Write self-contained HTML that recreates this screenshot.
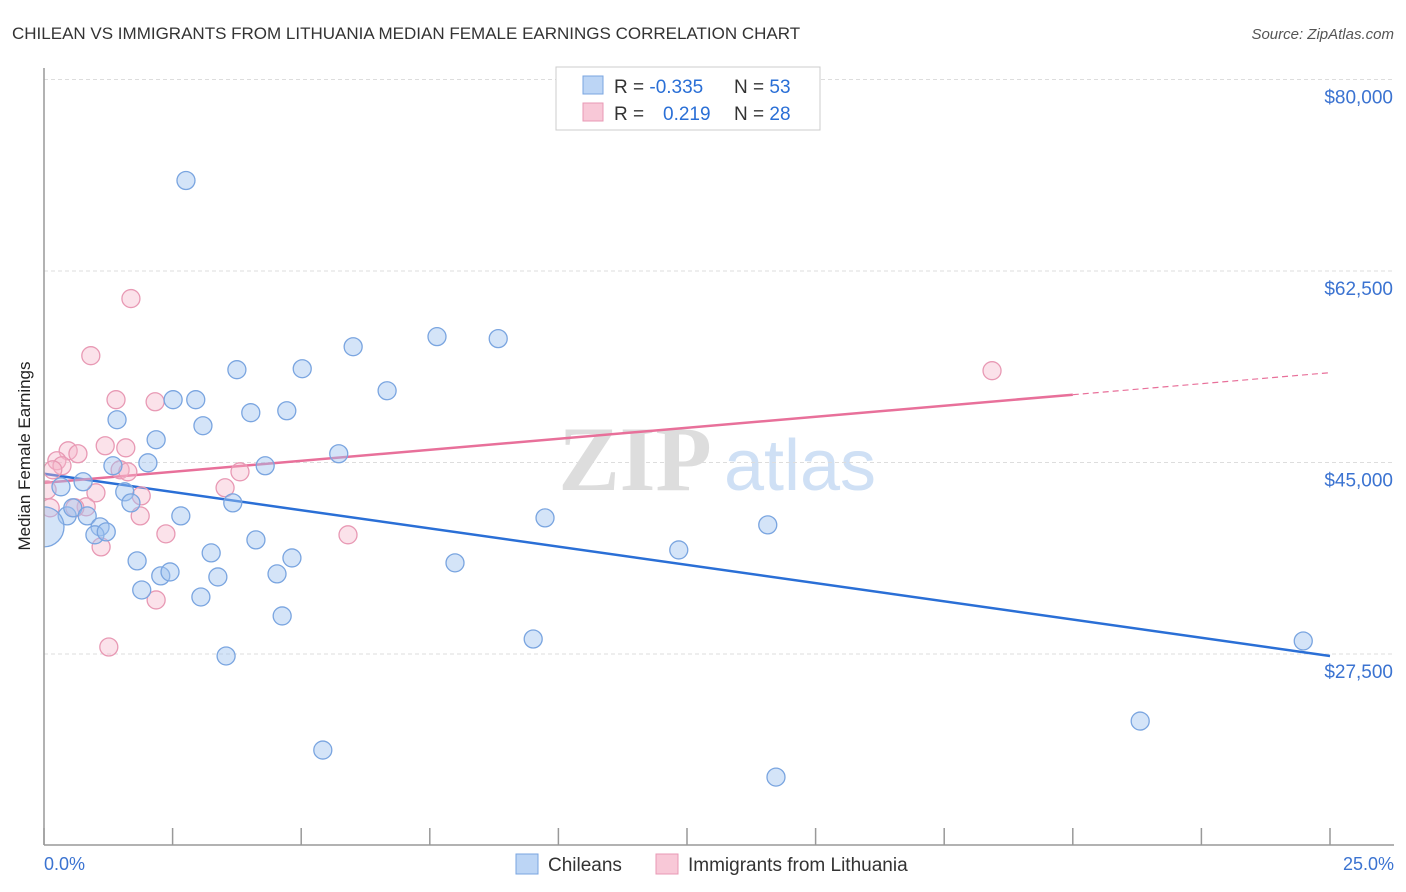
<!DOCTYPE html>
<html><head><meta charset="utf-8"><style>
body{margin:0;background:#fff;font-family:"Liberation Sans",sans-serif}
svg{display:block}
</style></head><body>
<svg id="chart" width="1406" height="892">
<defs><clipPath id="plotclip"><rect x="44" y="60" width="1362" height="785"/></clipPath></defs>
<text x="12" y="39" font-size="17" fill="#333">CHILEAN VS IMMIGRANTS FROM LITHUANIA MEDIAN FEMALE EARNINGS CORRELATION CHART</text>
<text x="1394" y="39" font-size="15" fill="#555" font-style="italic" text-anchor="end">Source: ZipAtlas.com</text>
<g><text x="635" y="490" font-size="92" font-family="Liberation Serif,serif" fill="#ddd" text-anchor="middle" font-weight="bold">ZIP</text><text x="800" y="490" font-size="72" fill="#cfe0f5" text-anchor="middle">atlas</text></g>
<g id="grid"></g>
<g id="xticks"></g>
<text x="30" y="456" font-size="17" fill="#222" text-anchor="middle" transform="rotate(-90 30 456)">Median Female Earnings</text>
<text x="44" y="870" font-size="18" fill="#3b73d1">0.0%</text>
<text x="1394" y="870" font-size="18" fill="#3b73d1" text-anchor="end">25.0%</text>
<g id="lines"></g>
<g id="points" clip-path="url(#plotclip)"></g>
<line x1="44" y1="68" x2="44" y2="845" stroke="#999" stroke-width="1.5"/>
<line x1="44" y1="845" x2="1394" y2="845" stroke="#999" stroke-width="1.5"/>
<g>
<rect x="556" y="67" width="264" height="63" fill="#fff" stroke="#ccc"/>
<rect x="583" y="76" width="20" height="18" fill="#bcd5f5" stroke="#7aa5e0"/>
<rect x="583" y="103" width="20" height="18" fill="#f8c8d7" stroke="#e899b4"/>
<text x="614" y="93" font-size="19" fill="#333">R = <tspan fill="#2a6fd6">-0.335</tspan><tspan x="734">N = </tspan><tspan fill="#2a6fd6">53</tspan></text>
<text x="614" y="120" font-size="19" fill="#333">R = <tspan x="663" fill="#2a6fd6">0.219</tspan><tspan x="734">N = </tspan><tspan fill="#2a6fd6">28</tspan></text>
</g>
<g>
<rect x="516" y="854" width="22" height="20" fill="#bcd5f5" stroke="#7aa5e0"/>
<text x="548" y="871" font-size="19" fill="#333">Chileans</text>
<rect x="656" y="854" width="22" height="20" fill="#f8c8d7" stroke="#e899b4"/>
<text x="688" y="871" font-size="19" fill="#333">Immigrants from Lithuania</text>
</g>
</svg>
<script>
const yTicks=[80000,62500,45000,27500];
const yTickLabels=["$80,000","$62,500","$45,000","$27,500"];
const xTickVals=[0,2.5,5,7.5,10,12.5,15,17.5,20,22.5,25];
const chileX=[2.76,0.33,0.45,0.76,0.56,0.84,1.09,0.99,1.21,1.34,1.42,1.57,1.69,1.81,1.90,2.02,2.18,2.27,2.45,2.51,2.95,3.09,2.66,3.05,3.25,3.38,3.54,3.67,3.75,4.02,4.12,4.30,4.53,4.63,4.72,4.82,5.02,5.42,5.73,6.01,6.67,7.64,7.99,8.83,9.51,9.74,12.34,14.07,14.23,21.31,24.48,0.0];
const chileY=[70770,42780,40120,43240,40860,40120,39120,38390,38660,44700,48910,42320,41310,36010,33350,44970,47080,34640,35000,50740,50740,48360,40120,32710,36740,34540,27320,41310,53480,49550,37930,44700,34820,30980,49730,36280,53570,18720,45800,55580,51560,56500,35830,56320,28870,39940,37010,39300,16250,21370,28690,39120];
const chileR=[9,9,9,9,9,9,9,9,9,9,9,9,9,9,9,9,9,9,9,9,9,9,9,9,9,9,9,9,9,9,9,9,9,9,9,9,9,9,9,9,9,9,9,9,9,9,9,9,9,9,9,20];
const lithX=[1.69,0.91,1.40,2.16,0.47,0.25,0.35,0.66,1.19,1.59,1.48,1.63,0.17,1.01,1.89,0.82,0.60,1.87,2.37,1.11,2.18,1.26,3.52,3.81,5.91,18.43,0.12,0.06];
const lithY=[59980,54760,50740,50550,46070,45160,44700,45800,46530,46340,44330,44150,44330,42230,41950,40950,40860,40120,38480,37290,32440,28140,42690,44150,38390,53390,40860,42500];
const chileTrend=[43970,27320];
const lithTrend=[43140,53210];
const NS='http://www.w3.org/2000/svg';
const xs=v=>44+v/25*1286;
const ys=v=>654-(v-27500)/17500*191.5;
function mk(tag,attrs,parent){const e=document.createElementNS(NS,tag);for(const k in attrs)e.setAttribute(k,attrs[k]);document.getElementById(parent).appendChild(e);return e;}
yTicks.forEach((t,i)=>{
 const l=mk('line',{x1:44,x2:1394,y1:ys(t),y2:ys(t),stroke:'#ddd','stroke-dasharray':'4 3'},'grid');
 
 
 const tx=mk('text',{x:1393,y:ys(t)+24,'font-size':19,fill:'#3b73d1','text-anchor':'end'},'grid');
 tx.textContent=yTickLabels[i];
 
 
});
xTickVals.forEach(v=>{
 const l=mk('line',{x1:xs(v),x2:xs(v),y1:828,y2:845,stroke:'#999','stroke-width':1.5},'xticks');
 
 
});
let bl=mk('line',{x1:xs(0),y1:ys(chileTrend[0]),x2:xs(25),y2:ys(chileTrend[1]),stroke:'#2a6fd6','stroke-width':2.5},'lines');


const lv=x=>lithTrend[0]+(lithTrend[1]-lithTrend[0])*x/25;
let pl=mk('line',{x1:xs(0),y1:ys(lv(0)),x2:xs(20),y2:ys(lv(20)),stroke:'#e8709a','stroke-width':2.5},'lines');


let pd=mk('line',{x1:xs(20),y1:ys(lv(20)),x2:xs(25),y2:ys(lv(25)),stroke:'#e8709a','stroke-width':1.2,'stroke-dasharray':'6 4'},'lines');


lithX.forEach((x,i)=>{
 const c=mk('circle',{cx:xs(x),cy:ys(lithY[i]),r:9,fill:'rgba(246,182,203,0.4)',stroke:'#e899b4','stroke-width':1.3},'points');
 
 
});
chileX.forEach((x,i)=>{
 const c=mk('circle',{cx:xs(x),cy:ys(chileY[i]),r:chileR[i],fill:'rgba(160,196,240,0.45)',stroke:'#7aa5e0','stroke-width':1.3},'points');
 
 
});
</script>
</body></html>
